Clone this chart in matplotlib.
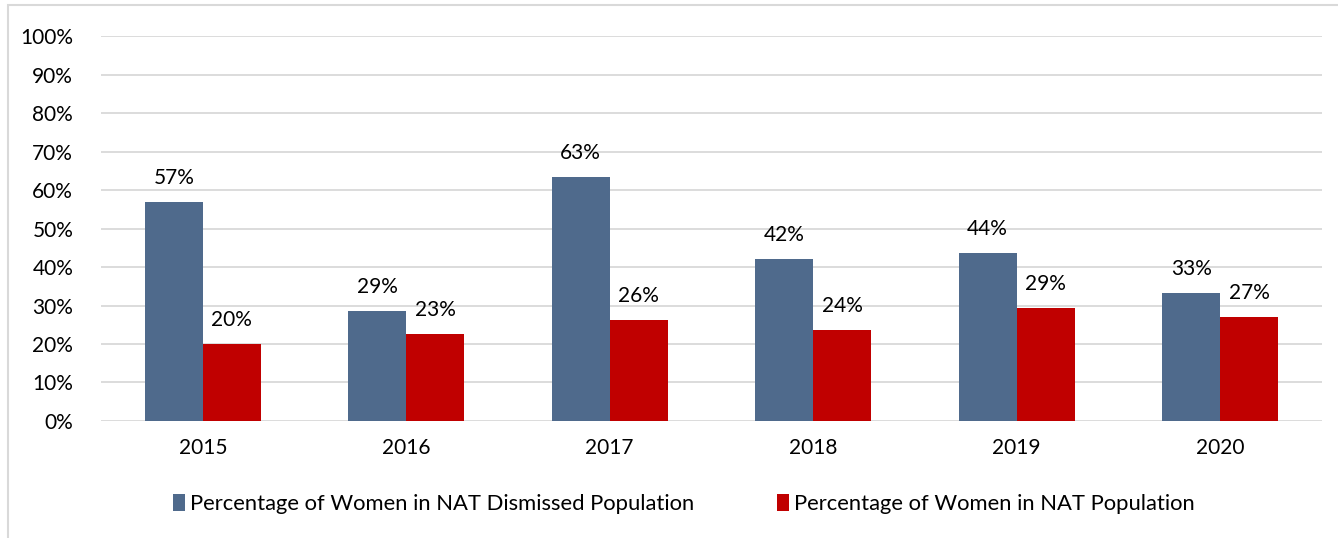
import matplotlib.pyplot as plt
import numpy as np
from matplotlib.patches import Rectangle

# dados
years = ["2015", "2016", "2017", "2018", "2019", "2020"]
dismissed = [57.0, 28.6, 63.4, 42.1, 43.6, 33.3]
population = [20.0, 22.7, 26.2, 23.6, 29.3, 27.0]
label_dismissed = "Percentage of Women in NAT Dismissed Population"
label_population = "Percentage of Women in NAT Population"

plt.rcParams['font.family'] = ['Lato', 'DejaVu Sans']
fs = 15

fig = plt.figure(figsize=(13.38, 5.38), dpi=100)
ax = fig.add_axes([0.0755, 0.2175, 0.9125, 0.7155])

# borda da figura
fig.patches.append(Rectangle((0.006, -0.05), 1.1, 1.04, transform=fig.transFigure,
                             fill=False, edgecolor='#D9D9D9', linewidth=1.5))

x = np.arange(len(years))
w = 0.285
b1 = ax.bar(x - w / 2, dismissed, w, color='#4F6A8C', label=label_dismissed, zorder=3)
b2 = ax.bar(x + w / 2, population, w, color='#C00000', label=label_population, zorder=3)

for bars, vals in [(b1, dismissed), (b2, population)]:
    for r, v in zip(bars, vals):
        ax.annotate(f"{v:.0f}%", (r.get_x() + r.get_width() / 2, v),
                    xytext=(0, 10), textcoords='offset points',
                    ha='center', va='bottom', fontsize=fs)

ax.set_xlim(-0.5, len(years) - 0.5)
ax.set_ylim(0, 100)
ax.set_yticks(range(0, 101, 10))
ax.set_yticklabels([f"{t}%" for t in range(0, 101, 10)])
ax.set_xticks(x)
ax.set_xticklabels(years)
ax.tick_params(axis='both', length=0, labelsize=fs)
ax.tick_params(axis='y', pad=20)
ax.tick_params(axis='x', pad=12)
ax.grid(axis='y', color='#D9D9D9', linewidth=1.3, zorder=0)
for s in ax.spines.values():
    s.set_visible(False)

fig.legend(handles=[b1, b2], loc='center', bbox_to_anchor=(0.511, 0.063), ncol=2,
           frameon=False, fontsize=15.8, handlelength=0.55, handleheight=0.85,
           handletextpad=0.2, columnspacing=3.8)

fig.savefig("out.png", dpi=100)
